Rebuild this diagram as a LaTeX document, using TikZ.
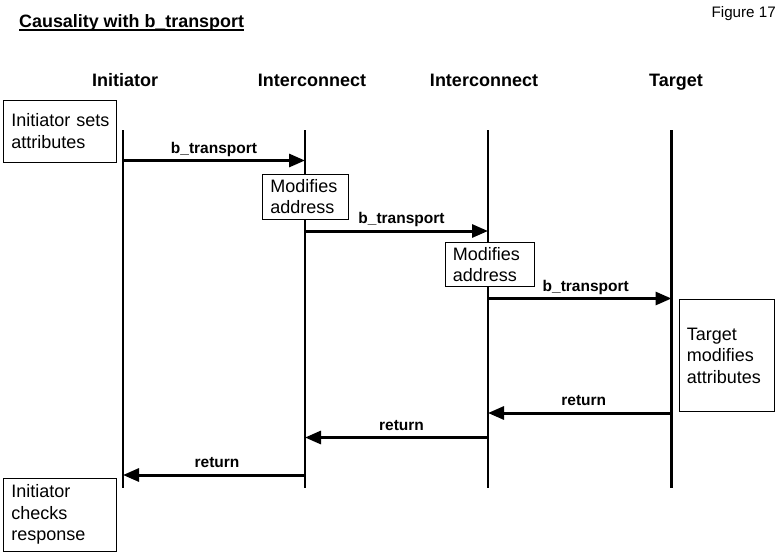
\documentclass[tikz,border=0pt]{standalone}
\usepackage{fontspec}
\setmainfont{Liberation Sans}
\usetikzlibrary{arrows.meta}
\tikzset{
  life/.style={line width=2.5pt},
  msg/.style={line width=3pt,-{Triangle[length=16pt,width=13pt]}},
  note/.style={draw,line width=0.9pt,fill=white,align=left,inner xsep=8pt,inner ysep=0pt,
    font=\fontsize{18}{21.5}\selectfont},
  head/.style={font=\fontsize{18}{21}\selectfont\bfseries,anchor=base,inner sep=0pt},
  lbl/.style={font=\fontsize{15.5}{18}\selectfont\bfseries,anchor=base,inner sep=0pt}
}
\begin{document}
\begin{tikzpicture}[x=1pt,y=-1pt]
\useasboundingbox[fill=white] (0,0) rectangle (784,555);
% title
\node[anchor=base west,inner sep=0pt,font=\fontsize{17.9}{21}\selectfont\bfseries] (title) at (19,27.5) {Causality with b\_transport};
\draw[line width=2pt] ([yshift=-2.8pt]title.base west) -- ([yshift=-2.8pt]title.base east);
\node[anchor=base east,inner sep=0pt,font=\fontsize{15.2}{18}\selectfont] (fig) at (776,17.5) {Figure 17};
% headers
\node[head] (h1) at (125,86.5) {Initiator};
\node[head] (h2) at (312,86.5) {Interconnect};
\node[head] (h3) at (484,86.5) {Interconnect};
\node[head] (h4) at (676,86.5) {Target};
% lifelines
\coordinate (a0) at (123,130); \coordinate (a1) at (123,488);
\coordinate (b0) at (305,130); \coordinate (b1) at (305,488);
\coordinate (c0) at (488,130); \coordinate (c1) at (488,488);
\coordinate (d0) at (671.5,130); \coordinate (d1) at (671.5,488);
\draw[life] (a0) -- (a1);
\draw[life] (b0) -- (b1);
\draw[life] (c0) -- (c1);
\draw[life] (d0) -- (d1);
% messages
\coordinate (m1s) at (123,160.5); \coordinate (m1e) at (305,160.5);
\coordinate (m2s) at (305,231); \coordinate (m2e) at (488,231);
\coordinate (m3s) at (488,298.5); \coordinate (m3e) at (671.5,298.5);
\coordinate (r1s) at (671.5,413); \coordinate (r1e) at (488,413);
\coordinate (r2s) at (488,437.5); \coordinate (r2e) at (305,437.5);
\coordinate (r3s) at (305,475); \coordinate (r3e) at (123,475);
\draw[msg] (m1s) -- (m1e) node[lbl,midway,xshift=0pt,yshift=7.5pt] (l1) {b\_transport};
\draw[msg] (m2s) -- (m2e) node[lbl,midway,xshift=5pt,yshift=7.5pt] (l2) {b\_transport};
\draw[msg] (m3s) -- (m3e) node[lbl,midway,xshift=6pt,yshift=7.5pt] (l3) {b\_transport};
\draw[msg] (r1s) -- (r1e) node[lbl,midway,xshift=4pt,yshift=7.5pt] (l4) {return};
\draw[msg] (r2s) -- (r2e) node[lbl,midway,xshift=5pt,yshift=7.5pt] (l5) {return};
\draw[msg] (r3s) -- (r3e) node[lbl,midway,xshift=3pt,yshift=7.5pt] (l6) {return};
% notes
\node[note,text width=97pt,minimum height=62.5pt,anchor=north west] (n1) at (3,99.5) {Initiator~sets\\attributes};
\node[note,text width=70pt,minimum height=45pt,anchor=north west] (n2) at (262,173.5) {Modifies\\address};
\node[note,text width=73pt,minimum height=44pt,anchor=north west] (n3) at (444.5,242) {Modifies\\address};
\node[note,text width=79pt,minimum height=112pt,anchor=north west] (n4) at (678.5,299) {Target\\modifies\\attributes};
\node[note,text width=97pt,minimum height=73pt,anchor=north west] (n5) at (3,477.5) {Initiator\\checks\\response};
\end{tikzpicture}
\end{document}
